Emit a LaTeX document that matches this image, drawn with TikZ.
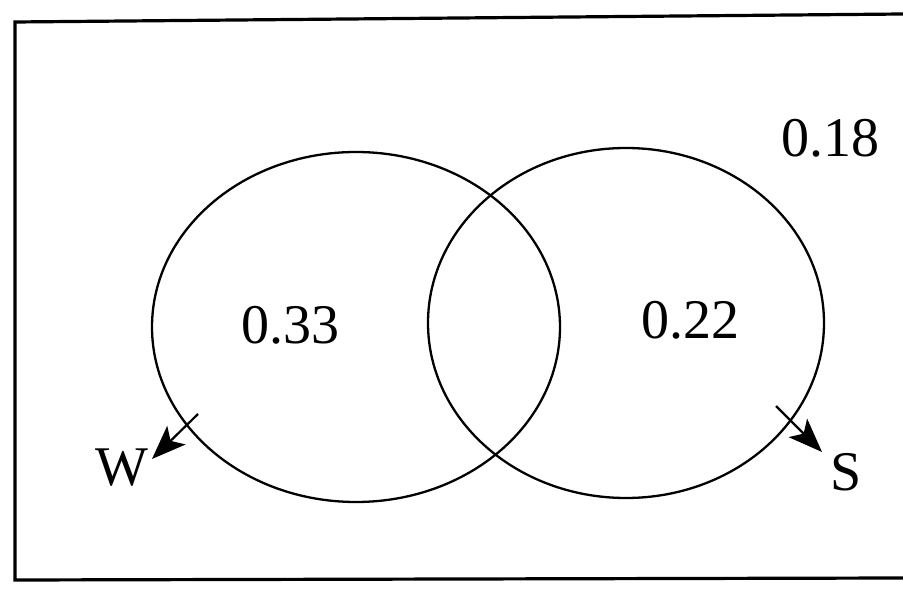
\documentclass[tikz,border=0pt]{standalone}
\usepackage{fontspec}
\setmainfont{Liberation Serif}
\usetikzlibrary{arrows.meta,shapes.geometric}
\tikzset{
  setline/.style={line width=2.3pt, black},
  frameline/.style={line width=3.2pt, black},
  lbl/.style={font=\fontsize{56}{62}\selectfont, inner sep=0pt},
  ptr/.style={line width=2.2pt, -{Stealth[length=34pt,width=26pt,inset=8pt]}}
}
\begin{document}
\begin{tikzpicture}[x=1pt,y=-1pt]
\useasboundingbox (0,0) rectangle (903,593);
\coordinate (tl) at (15,22);
\coordinate (tr) at (903,14);
\coordinate (bl) at (15,580);
\coordinate (br) at (903,578);
\draw[frameline] (tr) -- (tl) -- (bl) -- (br);
\node[setline, draw, ellipse, minimum width=408pt, minimum height=350pt, inner sep=0pt] (Wset) at (356,327) {};
\node[setline, draw, ellipse, minimum width=396pt, minimum height=350pt, inner sep=0pt] (Sset) at (626,323) {};
\node[lbl] (a) at (290,325) {0.33};
\node[lbl] (b) at (690,320) {0.22};
\node[lbl] (c) at (830,138) {0.18};
\node[lbl] (W) at (122,468) {W};
\node[lbl] (S) at (846,472) {S};
\coordinate (w1) at (198,414);
\coordinate (w2) at (152,459);
\coordinate (s1) at (776,406);
\coordinate (s2) at (822,452);
\draw[ptr] (w1) -- (w2);
\draw[ptr] (s1) -- (s2);
\end{tikzpicture}
\end{document}
